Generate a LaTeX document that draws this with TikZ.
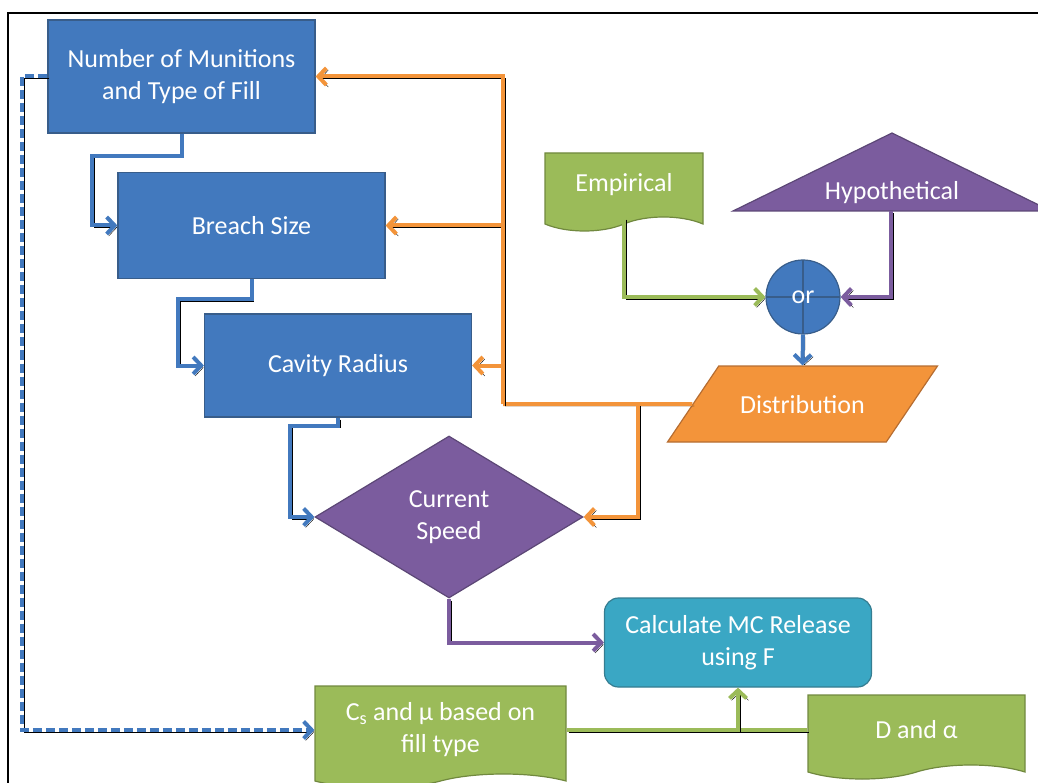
\documentclass[tikz,border=0pt]{standalone}
\usepackage{fontspec}
\setmainfont{Carlito}
\usepackage{tikz}
\usetikzlibrary{positioning, arrows.meta, shapes.geometric, shapes.symbols, calc}

\definecolor{boxblue}{RGB}{66,121,190}
\definecolor{edgeblue}{RGB}{56,93,138}
\definecolor{boxgreen}{RGB}{155,187,89}
\definecolor{edgegreen}{RGB}{113,137,63}
\definecolor{boxpurple}{RGB}{123,92,158}
\definecolor{edgepurple}{RGB}{92,71,118}
\definecolor{boxorange}{RGB}{243,148,58}
\definecolor{edgeorange}{RGB}{182,109,49}
\definecolor{boxteal}{RGB}{58,167,196}
\definecolor{edgeteal}{RGB}{53,125,145}

\begin{document}
\begin{tikzpicture}[
  x=1pt, y=-1pt,
  font=\fontsize{26}{32}\selectfont,
  box/.style={draw=edgeblue, fill=boxblue, line width=1.2pt, text=white, align=center, inner sep=0pt},
  stepbox/.style={box, minimum width=267pt},
  doc/.style={box, tape, tape bend top=none, tape bend bottom=in and out, tape bend height=14pt,
    draw=edgegreen, fill=boxgreen},
  link/.style={line width=4pt, -{Straight Barb[length=8pt,width=17pt]},
    preaction={draw=black, transform canvas={shift={(2pt,-2pt)}}}},
  plainlink/.style={link, -},
  bluelink/.style={link, draw=boxblue},
  orangelink/.style={link, draw=boxorange},
  greenlink/.style={link, draw=boxgreen},
  purplelink/.style={link, draw=boxpurple},
]
  \clip (0,0) rectangle (1038,783);
  \draw[line width=2pt] (8,13) rectangle (1070,810);

  \node[stepbox, minimum height=113pt] (num) at (181.5,76.5) {Number of Munitions\\and Type of Fill};
  \node[stepbox, minimum height=106pt] (breach) at (251.5,225.5) {Breach Size};
  \node[stepbox, minimum height=103pt] (cavity) at (338,365.5) {Cavity Radius};
  \node[box, diamond, aspect=1.65, minimum width=268pt, minimum height=162pt,
    draw=edgepurple, fill=boxpurple] (speed) at (449,517) {Current\\Speed};
  \node[box, rounded corners=14pt, minimum width=267pt, minimum height=89pt,
    draw=edgeteal, fill=boxteal] (calc) at (738,642.5) {Calculate MC Release\\using F};

  \node[doc, minimum width=158pt, minimum height=78pt] (emp) at (624,185) {Empirical};
  \draw[edgepurple, fill=boxpurple, line width=1.2pt] (733,211) -- (892,133) -- (1051,211) -- cycle;
  \node[text=white] (hyp) at (892,193) {Hypothetical};
  \coordinate (hypbase) at (891,211);
  \node[box, circle, minimum size=74pt,
    path picture={\draw[edgeblue, line width=1.2pt]
      (path picture bounding box.north) -- (path picture bounding box.south)
      (path picture bounding box.west) -- (path picture bounding box.east);}] (or) at (803,297) {or};
  \node[box, trapezium, trapezium left angle=56, trapezium right angle=124, trapezium stretches body=true,
    text height=19pt, text depth=0pt, inner ysep=28.5pt,
    minimum width=270pt, draw=edgeorange, fill=boxorange] (dist) at (802.5,404) {Distribution};

  \node[doc, minimum width=251pt, minimum height=102pt] (cs) at (440.5,730) {C\textsubscript{s} and µ based on\\fill type};
  \node[doc, minimum width=217pt, minimum height=84pt] (dal) at (916.5,730) {D and α};

  \coordinate (ojoin) at (503,404);
  \coordinate (odrop) at (638,404);

  \draw[bluelink] (num.south) -- ++(0,22) -| ([xshift=-25pt]breach.west) -- (breach.west);
  \draw[bluelink] (breach.south) -- ++(0,20) -| ([xshift=-26pt]cavity.west) -- (cavity.west);
  \draw[bluelink] (cavity.south) -- ++(0,8) -| ([xshift=-24pt]speed.west) -- (speed.west);
  \draw[purplelink] (speed.south) |- (calc.west);

  \draw[plainlink, draw=boxorange] (dist.west) -- (ojoin);
  \draw[orangelink] (ojoin) |- (num.east);
  \draw[orangelink] (ojoin) |- (breach.east);
  \draw[orangelink] (ojoin) |- (cavity.east);
  \draw[orangelink] (odrop) |- (speed.east);

  \draw[greenlink] (emp.south) |- (or.west);
  \draw[purplelink] (hypbase) |- (or.east);
  \draw[bluelink] (or.south) -- (dist.north);

  \draw[plainlink, draw=boxgreen] (cs.east) -- (dal.west);
  \draw[greenlink] (calc.south |- cs.east) -- (calc.south);
  \draw[bluelink, dash pattern=on 9pt off 4pt] (num.west) -- ++(-25,0) |- (cs.west);
\end{tikzpicture}
\end{document}
